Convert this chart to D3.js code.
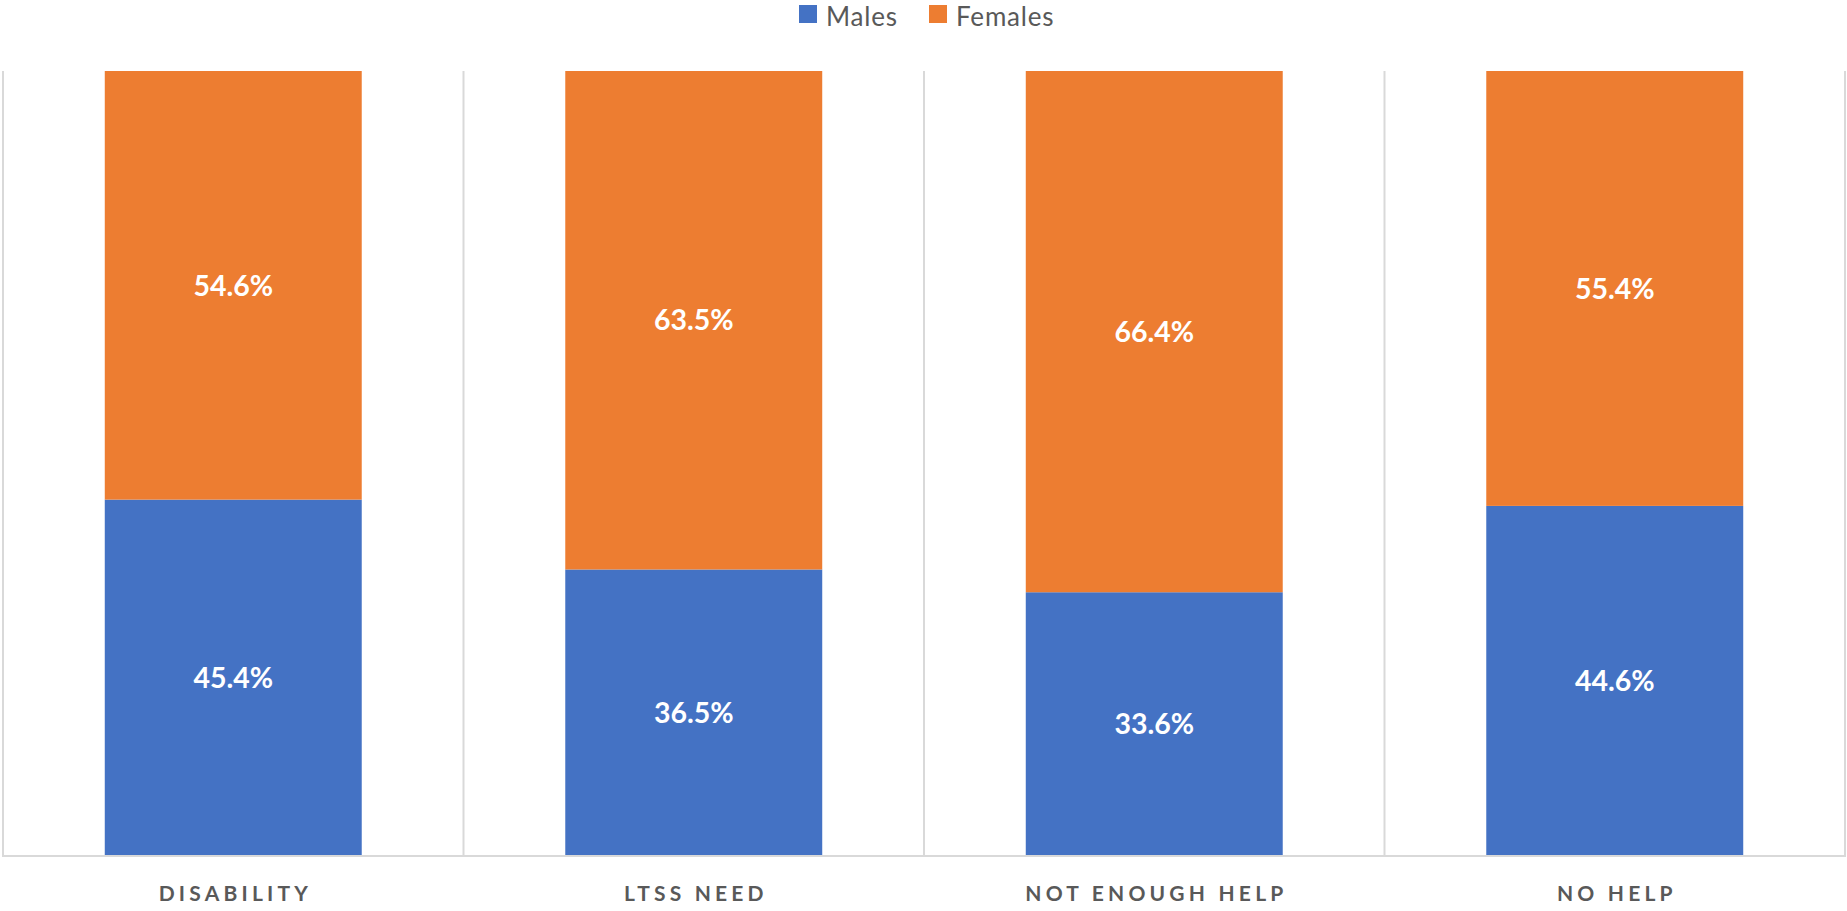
<!DOCTYPE html>
<html><head><meta charset="utf-8">
<script src="https://cdn.jsdelivr.net/npm/d3@7"></script>
<style>body{margin:0;background:#fff;}svg{display:block;}</style>
</head><body>
<svg id="chart" width="1847" height="911"></svg>
<script>
const categories = ["DISABILITY", "LTSS NEED", "NOT ENOUGH HELP", "NO HELP"];
const males = [45.4, 36.5, 33.6, 44.6];
const females = [54.6, 63.5, 66.4, 55.4];
const seriesNames = ["Males", "Females"];
const colors = ["#4472C4", "#ED7D31"];

const svg = d3.select("#chart");
const W = 1847, H = 911;
const m = {left: 3, right: 2, top: 71, bottom: 55};
const x = d3.scaleBand().domain(categories).range([m.left, W - m.right]).paddingInner(0).paddingOuter(0);
const y = d3.scaleLinear().domain([0, 100]).range([H - m.bottom, m.top]);
const barW = x.bandwidth() * 0.558;

const rows = categories.map((c, i) => ({cat: c, Males: males[i], Females: females[i]}));
const stack = d3.stack().keys(seriesNames)(rows);

// gridlines at category boundaries
const bounds = categories.map(c => x(c)).concat([x(categories[categories.length-1]) + x.bandwidth()]);
svg.append("g").selectAll("line").data(bounds).join("line")
  .attr("x1", d => d).attr("x2", d => d)
  .attr("y1", y(100)).attr("y2", y(0))
  .attr("stroke", "#d9d9d9").attr("stroke-width", 2);

// bars
const g = svg.append("g");
stack.forEach((s, si) => {
  g.append("g").selectAll("rect").data(s).join("rect")
    .attr("x", d => x(d.data.cat) + (x.bandwidth() - barW) / 2)
    .attr("width", barW)
    .attr("y", d => y(d[1]))
    .attr("height", d => y(d[0]) - y(d[1]))
    .attr("fill", colors[si]);
  g.append("g").selectAll("text").data(s).join("text")
    .attr("x", d => x(d.data.cat) + x.bandwidth() / 2)
    .attr("y", d => (y(d[0]) + y(d[1])) / 2)
    .attr("dy", "0.36em")
    .attr("text-anchor", "middle")
    .attr("fill", "#fff")
    .attr("font-family", "Lato, 'Open Sans', sans-serif")
    .attr("font-weight", "bold")
    .attr("font-size", 28.5)
    .text(d => (d[1] - d[0]).toFixed(1) + "%");
});

// x axis baseline
svg.append("line")
  .attr("x1", m.left - 1).attr("x2", W - m.right + 1)
  .attr("y1", y(0)).attr("y2", y(0))
  .attr("stroke", "#d9d9d9").attr("stroke-width", 2);

// category labels
const ls = 4.2;
const xAxis = d3.axisBottom(x).tickSize(0).tickPadding(0);
const ax = svg.append("g").attr("transform", `translate(0,${y(0)})`).call(xAxis);
ax.select(".domain").remove();
ax.selectAll("text")
  .attr("y", 37)
  .attr("dx", ls / 2)
  .attr("dy", "0.36em")
  .attr("fill", "#595959")
  .attr("font-family", "Lato, 'Open Sans', sans-serif")
  .attr("font-weight", "bold")
  .attr("font-size", 21)
  .attr("letter-spacing", ls + "px");

// legend
const legend = svg.append("g");
const legItems = [{name: seriesNames[0], c: colors[0], x: 799}, {name: seriesNames[1], c: colors[1], x: 929}];
legItems.forEach(it => {
  legend.append("rect").attr("x", it.x).attr("y", 5).attr("width", 18).attr("height", 18).attr("fill", it.c);
  legend.append("text").attr("x", it.x + 27).attr("y", 26)
    .attr("fill", "#595959")
    .attr("font-family", "Lato, 'Open Sans', sans-serif")
    .attr("font-size", 26)
    .attr("letter-spacing", "0.8px")
    .text(it.name);
});
</script>
</body></html>
